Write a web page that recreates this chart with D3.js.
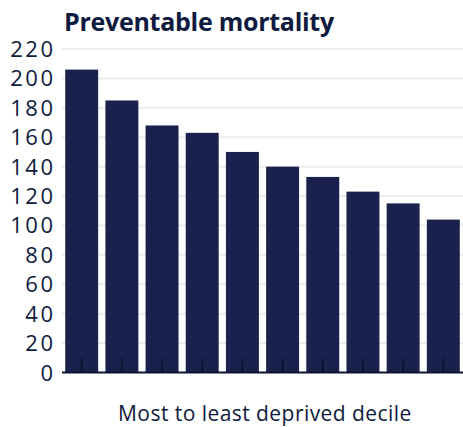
<!DOCTYPE html>
<html>
<head>
<meta charset="utf-8">
<script src="https://cdn.jsdelivr.net/npm/d3@7"></script>
<style>
  html, body { margin: 0; padding: 0; background: #fff; }
  svg { display: block; }
</style>
</head>
<body>
<div id="chart"></div>
<script>
const title = "Preventable mortality";
const xAxisLabel = "Most to least deprived decile";
const deciles = ["1", "2", "3", "4", "5", "6", "7", "8", "9", "10"];
const values = [206, 185, 168, 163, 150, 140, 133, 123, 115, 104];
const yTicks = [0, 20, 40, 60, 80, 100, 120, 140, 160, 180, 200, 220];

const W = 463, H = 427;
const margin = { left: 62, right: 0, top: 49, bottom: 55 };
const FONT = "'Open Sans', sans-serif";
const svg = d3.select("#chart").append("svg").attr("width", W).attr("height", H);

const x = d3.scaleBand().domain(deciles)
  .range([margin.left, W - margin.right])
  .paddingInner(0.18).paddingOuter(0.08);
const y = d3.scaleLinear().domain([0, 220]).range([372.5, 49]);

// fit a text element to a target width by letter-spacing
function fitWidth(sel, target) {
  const node = sel.node();
  const n = sel.text().length;
  const w = node.getComputedTextLength();
  sel.attr("letter-spacing", ((target - w) / n).toFixed(2));
}

// gridlines
svg.append("g").selectAll("line").data(yTicks.filter(d => d > 0)).join("line")
  .attr("x1", margin.left).attr("x2", W)
  .attr("y1", d => y(d)).attr("y2", d => y(d))
  .attr("stroke", "#ececec").attr("stroke-width", 2);

// y labels
const ls = 2.5;
svg.append("g").selectAll("text").data(yTicks).join("text")
  .attr("x", 53 + ls).attr("y", d => y(d) + 8)
  .attr("text-anchor", "end")
  .attr("letter-spacing", ls)
  .attr("font-family", FONT).attr("font-size", 22)
  .attr("fill", "#0e1a40")
  .text(d => d);

// bars
svg.append("g").selectAll("rect").data(values).join("rect")
  .attr("x", (d, i) => x(deciles[i]))
  .attr("width", x.bandwidth())
  .attr("y", d => y(d))
  .attr("height", d => y(0) - y(d))
  .attr("fill", "#1b214d");

// x axis
const xAxis = d3.axisBottom(x).tickSize(-14).tickFormat("");
const gx = svg.append("g").attr("transform", `translate(0,${y(0)})`).call(xAxis);
gx.select(".domain").attr("stroke", "#0d1433").attr("stroke-width", 2)
  .attr("d", `M${margin.left},0H${W}`);
gx.selectAll(".tick line").attr("stroke", "#0d1433").attr("stroke-width", 2);

// title
const t = svg.append("text").attr("x", 64).attr("y", 30.5)
  .attr("font-family", FONT).attr("font-weight", 700).attr("font-size", 25)
  .attr("fill", "#0e1a40").text(title);
fitWidth(t, 270);

// x axis label
const xl = svg.append("text").attr("x", 118).attr("y", 421)
  .attr("font-family", FONT).attr("font-size", 21)
  .attr("fill", "#0e1a40").text(xAxisLabel);
fitWidth(xl, 294);
</script>
</body>
</html>
